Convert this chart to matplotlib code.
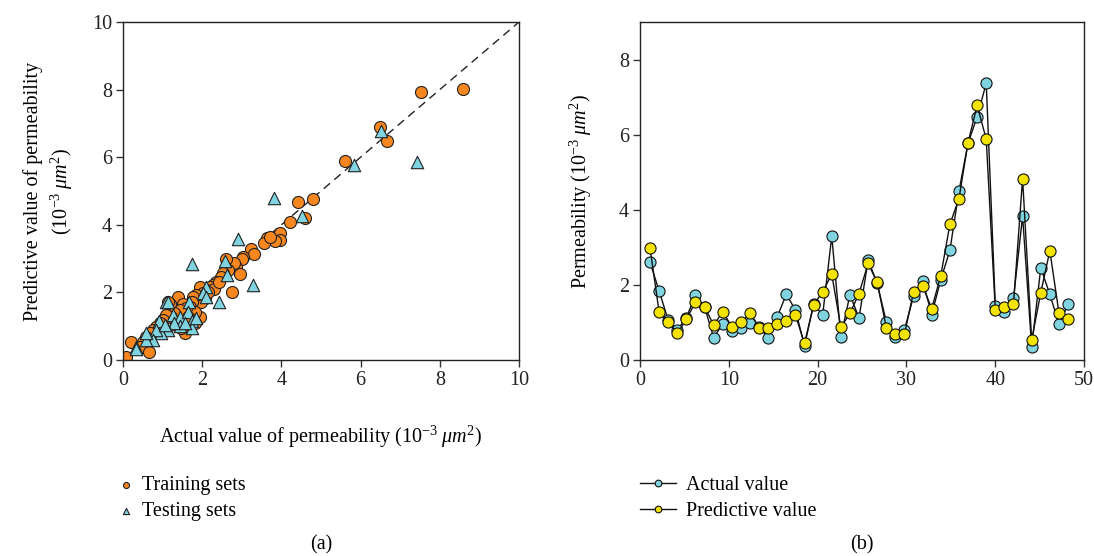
import numpy as np
import matplotlib
matplotlib.use("Agg")
import matplotlib.pyplot as plt

plt.rcParams['font.family'] = 'Liberation Serif'
plt.rcParams['mathtext.fontset'] = 'custom'
plt.rcParams['mathtext.rm'] = 'Liberation Serif'
plt.rcParams['mathtext.it'] = 'Liberation Serif:italic'

# (a) training / testing sets: actual vs predicted permeability
train_actual = [8.59, 7.53, 6.48, 6.67, 5.61, 4.81, 4.42, 4.60, 4.21, 3.97, 3.97, 3.83, 3.64, 3.55,
                3.70, 3.24, 3.30, 3.03, 3.01, 2.86, 2.80, 2.59, 2.95, 2.74, 2.65, 2.52, 2.48, 2.36,
                2.27, 2.19, 2.10, 1.94, 2.02, 2.06, 1.98, 1.85, 1.77, 1.73, 1.68, 1.95, 1.83, 1.39,
                1.52, 1.60, 1.43, 1.18, 1.14, 1.30, 1.22, 1.09, 1.01, 0.93, 0.84, 0.76, 1.56, 1.47,
                1.35, 0.67, 0.59, 0.51, 0.42, 0.66, 0.19, 0.07, 1.73, 1.81, 1.64, 2.30, 2.42, 2.15]
train_pred = [8.02, 7.94, 6.89, 6.48, 5.90, 4.77, 4.68, 4.19, 4.08, 3.77, 3.55, 3.53, 3.62, 3.47,
              3.63, 3.29, 3.15, 3.05, 2.98, 2.76, 2.86, 2.98, 2.53, 2.00, 2.66, 2.56, 2.46, 2.32,
              2.22, 2.15, 2.07, 2.15, 1.97, 1.82, 1.72, 1.92, 1.87, 1.72, 1.58, 1.26, 1.43, 1.85,
              1.67, 1.53, 1.48, 1.67, 1.72, 1.38, 1.28, 1.33, 1.18, 1.08, 0.99, 0.89, 0.79, 0.94,
              1.03, 0.79, 0.69, 0.54, 0.39, 0.25, 0.52, 0.08, 1.18, 1.08, 1.28, 2.10, 2.30, 2.00]

test_actual = [7.42, 6.52, 5.83, 4.51, 3.82, 2.91, 2.58, 2.63, 1.73, 3.29, 2.43, 2.10, 2.02, 2.09,
               1.66, 1.09, 1.14, 1.26, 1.43, 1.64, 1.73, 1.73, 1.43, 1.30, 1.14, 0.97, 0.91, 0.84,
               0.76, 0.57, 0.57, 0.34, 0.34, 1.05, 1.56, 1.85]
test_pred = [5.85, 6.77, 5.76, 4.26, 4.80, 3.57, 2.93, 2.51, 2.83, 2.22, 1.72, 2.17, 1.97, 1.87,
             1.72, 1.71, 1.72, 1.33, 1.28, 1.43, 1.15, 0.94, 1.00, 1.08, 0.89, 0.81, 1.16, 0.89,
             0.59, 0.59, 0.79, 0.39, 0.34, 1.03, 1.08, 1.23]

# (b) sample-by-sample comparison
sample_pos = np.linspace(1.13, 48.2, 47)
actual_value = [2.60, 1.84, 1.06, 0.80, 1.13, 1.72, 1.42, 0.59, 0.97, 0.78, 0.86, 0.99, 0.89, 0.58,
                1.15, 1.75, 1.33, 0.38, 1.49, 1.20, 3.30, 0.62, 1.74, 1.12, 2.66, 2.04, 1.02, 0.62,
                0.80, 1.70, 2.11, 1.21, 2.14, 2.92, 4.50, 5.78, 6.47, 7.37, 1.44, 1.28, 1.64, 3.83,
                0.35, 2.45, 1.75, 0.95, 1.48]
predictive_value = [2.98, 1.28, 1.02, 0.71, 1.08, 1.55, 1.42, 0.93, 1.28, 0.89, 1.00, 1.24, 0.86, 0.84,
                    0.95, 1.04, 1.20, 0.44, 1.46, 1.82, 2.28, 0.87, 1.24, 1.77, 2.57, 2.07, 0.86, 0.68,
                    0.69, 1.81, 1.97, 1.37, 2.25, 3.61, 4.30, 5.79, 6.78, 5.88, 1.33, 1.42, 1.49, 4.83,
                    0.53, 1.79, 2.91, 1.26, 1.09]

orange = '#F7861E'
cyan = '#80D4E0'
yellow = '#F4E200'
unit = r'$(10^{-3}\;\mathit{\mu m}^2)$'
FS = 14.5

fig = plt.figure(figsize=(10.94, 5.56), dpi=100)
ax1 = fig.add_axes([123/1094, 1-360/556, 396/1094, 338/556])
ax2 = fig.add_axes([640/1094, 1-360/556, 444/1094, 338/556])

for ax in (ax1, ax2):
    ax.tick_params(direction='out', length=5, width=1, labelsize=FS, pad=3,
                   color='#333333', labelcolor='#222222')
    for s in ax.spines.values():
        s.set_linewidth(1)
        s.set_color('#222222')

ax1.plot([0, 10], [0, 10], ls=(0, (6, 4)), color='#222222', lw=1, zorder=1)
ax1.scatter(train_actual, train_pred, s=75, c=orange, edgecolors='#222222', linewidths=0.8,
            marker='o', zorder=2, label='Training sets')
ax1.scatter(test_actual, test_pred, s=80, c=cyan, edgecolors='#222222', linewidths=0.8,
            marker='^', zorder=3, label='Testing sets')
ax1.set_xlim(0, 10)
ax1.set_ylim(0, 10)
ax1.set_xticks([0, 2, 4, 6, 8, 10])
ax1.set_yticks([0, 2, 4, 6, 8, 10])
ax1.set_xlabel('Actual value of permeability ' + unit, fontsize=FS, labelpad=24)
ax1.set_ylabel('Predictive value of permeability\n' + unit, fontsize=FS, labelpad=12,
               linespacing=1.3)

ax2.plot(sample_pos, actual_value, '-o', color='#111111', lw=1, ms=8, mfc=cyan, mec='#111111',
         mew=0.8, label='Actual value')
ax2.plot(sample_pos, predictive_value, '-o', color='#111111', lw=1, ms=8, mfc=yellow, mec='#111111',
         mew=0.8, label='Predictive value')
ax2.set_xlim(0, 50)
ax2.set_ylim(0, 9)
ax2.set_xticks([0, 10, 20, 30, 40, 50])
ax2.set_yticks([0, 2, 4, 6, 8])
ax2.set_ylabel('Permeability ' + unit, fontsize=FS, labelpad=18)

h1, l1 = ax1.get_legend_handles_labels()
fig.legend(h1, l1, loc='upper left', bbox_to_anchor=(108/1094, 1-468/556), frameon=False,
           fontsize=FS, markerscale=0.5, handlelength=1.0, handletextpad=0.3, labelspacing=0.35,
           borderaxespad=0)
h2, l2 = ax2.get_legend_handles_labels()
fig.legend(h2, l2, loc='upper left', bbox_to_anchor=(632/1094, 1-468/556), frameon=False,
           fontsize=FS, markerscale=0.6, handlelength=1.8, handletextpad=0.5, labelspacing=0.35,
           borderaxespad=0)

fig.text(321/1094, 1-545/556, '(a)', ha='center', va='center', fontsize=FS)
fig.text(862/1094, 1-545/556, '(b)', ha='center', va='center', fontsize=FS)

fig.savefig('out.png', dpi=100)
